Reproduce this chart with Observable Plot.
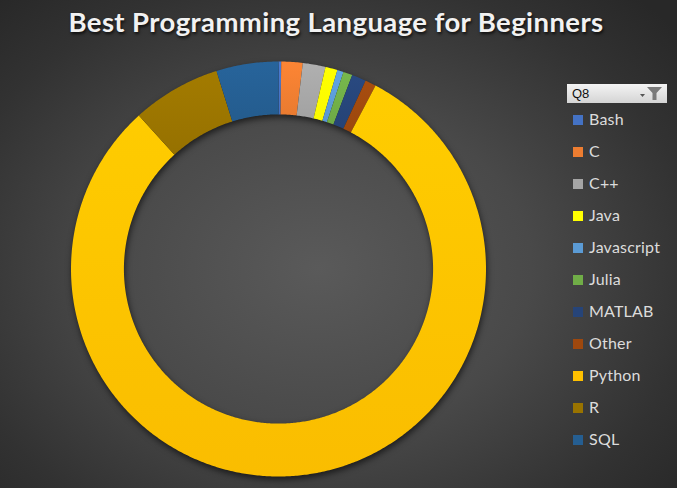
<!DOCTYPE html>
<html>
<head>
<meta charset="utf-8">
<script src="https://cdn.jsdelivr.net/npm/d3@7"></script>
<script src="https://cdn.jsdelivr.net/npm/@observablehq/plot@0.6"></script>
<style>
  html, body { margin: 0; padding: 0; background: #2a2a2a; }
  #chart {
    position: relative; width: 677px; height: 488px; overflow: hidden;
    background: radial-gradient(ellipse 70% 75% at 47% 55%, #5a5a5a 0%, #494949 45%, #323232 80%, #282828 100%);
    font-family: Lato, "Open Sans", sans-serif;
  }
  #title {
    position: absolute; left: 0; top: 5px; width: 672px; text-align: center;
    font-family: Lato, sans-serif; font-weight: bold; font-size: 27.5px; color: #f2f2f2;
    letter-spacing: 0.4px;
    text-shadow: 1px 2px 3px rgba(0,0,0,0.75);
  }
  #plot { position: absolute; left: 0; top: 40px; }
  #plot g[aria-label="geo"] { filter: drop-shadow(1px 3px 3px rgba(0,0,0,0.6)); }
  #filter {
    position: absolute; left: 567px; top: 84px; width: 100px; height: 19px;
    background: linear-gradient(#f4f4f4, #d4d4d4); box-sizing: border-box;
    font-family: "Liberation Sans", sans-serif; font-size: 13px; color: #111;
  }
  #filter span { position: absolute; left: 5px; top: 2px; }
  #filter svg { position: absolute; right: 3px; top: 2px; }
  .leg { position: absolute; left: 573px; height: 20px; font-size: 16px; color: #dcdcdc; }
  .leg i { position: absolute; left: 0; top: 5px; width: 10px; height: 10px; }
  .leg b { position: absolute; left: 16px; top: -1px; font-weight: normal; white-space: nowrap; letter-spacing: 0.2px; }
</style>
</head>
<body>
<div id="chart">
  <div id="title">Best Programming Language for Beginners</div>
  <div id="plot"></div>
  <div id="filter"><span>Q8</span>
    <svg width="26" height="15" viewBox="0 0 26 15">
      <path d="M2 8 L7 8 L4.5 11 Z" fill="#555"/>
      <path d="M9 1 L24 1 L18.5 7 L18.5 14 L14.5 14 L14.5 7 Z" fill="#7a7a7a"/>
    </svg>
  </div>
  <div id="legend"></div>
</div>
<script>
// ---- data ----
const languages = ["Bash", "C", "C++", "Java", "Javascript", "Julia", "MATLAB", "Other", "Python", "R", "SQL"];
const counts    = [21, 166, 177, 94, 49, 71, 111, 86, 8050, 692, 483];
const colors    = ["#4472C4", "#ED7D31", "#A5A5A5", "#FFFF00", "#5B9BD5", "#70AD47", "#264478", "#9E480E", "#FFC000", "#997300", "#255E91"];
const legendTitle = "Q8";

const OUTER = 1, INNER = 0.745;

const rows = languages.map((name, i) => ({name, count: counts[i], color: colors[i], i}));
const arcs = d3.pie().sort(null).value(d => d.count)(rows);

function ringPolygon(a0, a1, r0, r1) {
  const n = Math.max(2, Math.ceil((a1 - a0) / (Math.PI / 360)));
  const pts = [];
  for (let k = 0; k <= n; ++k) { const a = a0 + (a1 - a0) * k / n; pts.push([r1 * Math.sin(a), -r1 * Math.cos(a)]); }
  for (let k = n; k >= 0; --k) { const a = a0 + (a1 - a0) * k / n; pts.push([r0 * Math.sin(a), -r0 * Math.cos(a)]); }
  pts.push(pts[0]);
  return pts;
}

const features = arcs.map(a => ({
  type: "Feature",
  properties: {name: a.data.name, fill: `url(#grad-${a.data.i})`},
  geometry: {type: "Polygon", coordinates: [ringPolygon(a.startAngle, a.endAngle, INNER, OUTER)]}
}));

const defsMark = () => {
  const defs = d3.create("svg:defs");
  rows.forEach(r => {
    const g = defs.append("linearGradient").attr("id", `grad-${r.i}`)
      .attr("x1", 0).attr("y1", 0).attr("x2", 0).attr("y2", 1);
    g.append("stop").attr("offset", "0%").attr("stop-color", d3.color(r.color).brighter(0.18).formatHex());
    g.append("stop").attr("offset", "100%").attr("stop-color", d3.color(r.color).darker(0.05).formatHex());
  });
  return defs.node();
};

const chart = Plot.plot({
  width: 556,
  height: 457,
  marginLeft: 70.5, marginRight: 70.5, marginTop: 21, marginBottom: 21,
  style: {background: "transparent", overflow: "visible"},
  projection: {type: "identity", domain: {type: "MultiPoint", coordinates: [[-OUTER, -OUTER], [OUTER, OUTER]]}},
  marks: [
    defsMark,
    Plot.geo(features, {fill: d => d.properties.fill, stroke: "none"})
  ]
});
document.getElementById("plot").appendChild(chart);

// ---- legend ----
d3.select("#filter span").text(legendTitle);
const legend = d3.select("#legend");
rows.forEach((r, k) => {
  const item = legend.append("div").attr("class", "leg").style("top", `${110 + k * 32}px`);
  item.append("i").style("background", r.color);
  item.append("b").text(r.name);
});
</script>
</body>
</html>
